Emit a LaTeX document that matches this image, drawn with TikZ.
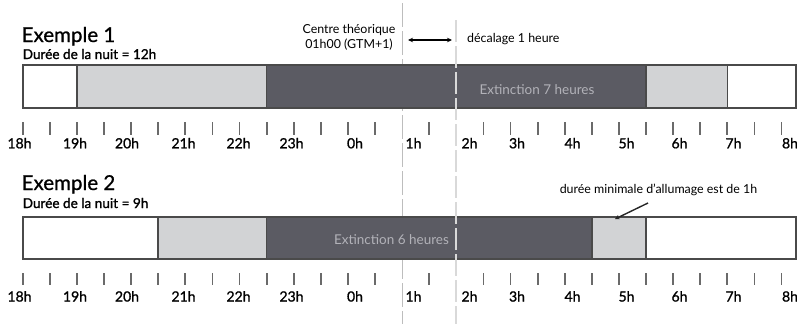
\documentclass[tikz,border=0pt]{standalone}
\usepackage{fontspec}
\setmainfont{Lato}
\newfontfamily\latomed[FakeBold=1.2]{Lato}
\newfontfamily\latotitle[FakeBold=0.8]{Lato}
\usetikzlibrary{arrows.meta}
\definecolor{darkseg}{HTML}{5B5B63}
\definecolor{lightseg}{HTML}{D2D3D5}
\definecolor{segline}{HTML}{4A4A4A}
\definecolor{tickc}{HTML}{6A6A6A}
\definecolor{vlinec}{HTML}{BDBDBD}
\definecolor{vlinetop}{HTML}{D9D9D9}
\definecolor{exttext}{HTML}{B2B2B8}
\tikzset{
  seg/.style={draw=segline, line width=1.6pt},
  tickmark/.style={draw=tickc, line width=1.8pt},
  hlabel/.style={font=\latomed\fontsize{14}{14}\selectfont, text=black, inner sep=0pt, anchor=base},
  title/.style={font=\latotitle\fontsize{20.5}{21}\selectfont, text=black, inner sep=0pt, anchor=base west},
  subtitle/.style={font=\latomed\fontsize{13.6}{14}\selectfont, text=black, inner sep=0pt, anchor=base west},
  note/.style={font=\fontsize{12.4}{15}\selectfont, text=black, inner sep=0pt},
  exttxt/.style={font=\fontsize{13.5}{14}\selectfont, text=exttext, inner sep=0pt},
  vline/.style={draw=vlinec, line width=1.3pt, dash pattern=on 24pt off 4pt},
  vlinetop/.style={draw=vlinetop, line width=1.3pt, dash pattern=on 22pt off 4pt},
}
\begin{document}
\begin{tikzpicture}[x=1pt,y=-1pt]
\useasboundingbox (0,0) rectangle (797,324);
% theoretical centre line (behind bars)
\draw[vline] (402.7,3) -- (402.7,324);
% bars and ticks, in hour units from 18h
\begin{scope}[xshift=22.7pt, x=54.2pt]
  \foreach \a/\b/\c in {0/1/white,1/4.5/lightseg,4.5/11.5/darkseg,11.5/13/lightseg,13/14.27/white}
    \draw[seg, fill=\c] (\a,65) rectangle (\b,108);
  \foreach \a/\b/\c in {0/2.5/white,2.5/4.5/lightseg,4.5/10.5/darkseg,10.5/11.5/lightseg,11.5/14.27/white}
    \draw[seg, fill=\c] (\a,217) rectangle (\b,259);
  \foreach \k in {0,0.5,...,6.5,7.5,8.5,9,...,14}{
    \draw[tickmark] (\k,122) -- (\k,135);
    \draw[tickmark] (\k,273) -- (\k,285);
  }
\end{scope}
% shifted centre line (on top)
\draw[vlinetop] (456,20) -- (456,324);
% texts inside bars
\node[exttxt] (ext1) at (537,90) {Extinction 7 heures};
\node[exttxt] (ext2) at (391.5,239.5) {Extinction 6 heures};
% hour labels
\foreach \lab/\xx in {18h/19.5,19h/75,20h/127,21h/183.5,22h/238.5,23h/291.5,0h/355,1h/413.5,2h/469.5,3h/517,4h/572.5,5h/626.5,6h/679.5,7h/733.5,8h/790}{
  \node[hlabel] (a\lab) at (\xx,148.3) {\lab};
  \node[hlabel] (b\lab) at (\xx,301.5) {\lab};
}
% titles
\node[title] (ex1) at (21.5,42) {Exemple 1};
\node[subtitle] (du1) at (22.5,59) {Durée de la nuit = 12h};
\node[title] (ex2) at (21.5,190) {Exemple 2};
\node[subtitle] (du2) at (22.5,208) {Durée de la nuit = 9h};
% annotations
\node[note, align=center] (centre) at (349,37.5) {Centre théorique\\01h00 (GTM+1)};
\node[note, anchor=west] (decal) at (467,39.5) {décalage 1 heure};
\coordinate (dl) at (408,40);
\coordinate (dr) at (452,40);
\draw[{Stealth[length=5pt,width=4.5pt]}-{Stealth[length=5pt,width=4.5pt]}, line width=1.3pt] (dl) -- (dr);
\node[note] (mini) at (658.5,190) {durée minimale d’allumage est de 1h};
\coordinate (ps) at (648,203);
\coordinate (pe) at (615,219);
\draw[-{Stealth[length=4.5pt,width=4.5pt]}, line width=1.4pt, draw=black!85] (ps) -- (pe);
\end{tikzpicture}
\end{document}
